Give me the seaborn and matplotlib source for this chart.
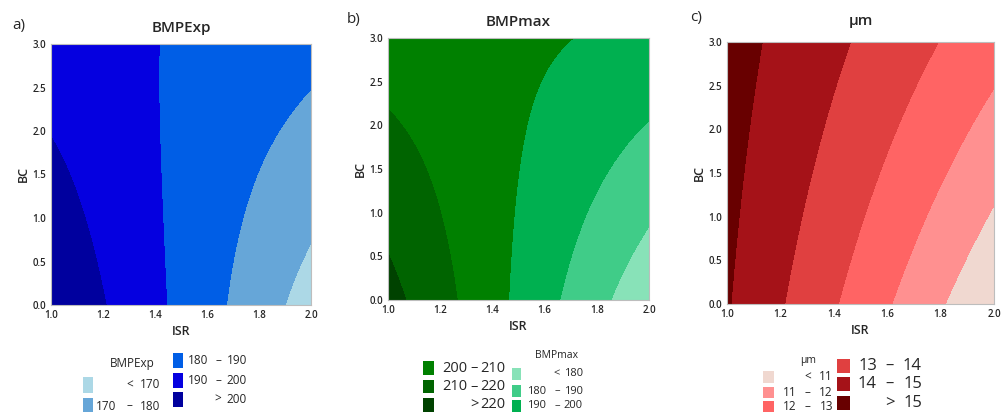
import numpy as np
import matplotlib
matplotlib.use("Agg")
import matplotlib.pyplot as plt
from matplotlib.patches import Rectangle
import seaborn as sns

# ---- data (response values on a coarse grid) ----
ISR_GRID = [1.0, 1.25, 1.5, 1.75, 2.0]
BC_GRID = [0.0, 1.0, 2.0, 3.0]

BMPEXP = [[209.0, 198.3, 187.5, 177.0, 165.5],
          [204.5, 196.0, 187.8, 179.3, 171.6],
          [199.5, 194.0, 188.3, 182.5, 177.8],
          [194.5, 191.8, 189.0, 186.0, 182.5]]
BMPMAX = [[223.5, 210.8, 198.0, 185.4, 172.5],
          [217.0, 208.2, 199.3, 190.7, 181.2],
          [211.2, 205.9, 200.8, 195.2, 189.6],
          [205.5, 203.7, 201.8, 199.8, 197.0]]
MU = [[15.07, 13.85, 12.60, 11.35, 10.10],
      [15.20, 14.09, 13.00, 11.96, 10.85],
      [15.30, 14.43, 13.55, 12.63, 11.70],
      [15.40, 14.63, 13.87, 13.12, 12.35]]

LEVELS_EXP = [170, 180, 190, 200]
LEVELS_MAX = [180, 190, 200, 210, 220]
LEVELS_MU = [11, 12, 13, 14, 15]

COLORS_EXP = ["#acd8e6", "#66a6d8", "#005ee6", "#0500e0", "#00009e"]
COLORS_MAX = ["#88e2b8", "#40cc88", "#00b050", "#008000", "#006400", "#004200"]
COLORS_MU = ["#f0d8d0", "#ff9090", "#ff6464", "#e04040", "#a51218", "#680000"]

# legend labels as (low, sign, high)
LABELS_EXP = [("", "<", "170"), ("170", "–", "180"), ("180", "–", "190"),
              ("190", "–", "200"), ("", ">", "200")]
LABELS_MAX = [("", "<", "180"), ("180", "–", "190"), ("190", "–", "200"),
              ("200", "–", "210"), ("210", "–", "220"), ("", ">", "220")]
LABELS_MU = [("", "<", "11"), ("11", "–", "12"), ("12", "–", "13"),
             ("13", "–", "14"), ("14", "–", "15"), ("", ">", "15")]

W, H = 1002, 412
sns.set_theme(style="white")
plt.rcParams["font.family"] = ["Open Sans", "DejaVu Sans"]

fig = plt.figure(figsize=(W / 100, H / 100), dpi=100)


def smooth_surface(z):
    xg, yg = np.meshgrid(ISR_GRID, BC_GRID)
    xs, ys, zs = xg.ravel(), yg.ravel(), np.asarray(z).ravel()
    terms = lambda x, y: np.stack([x**i * y**j for i in range(3) for j in range(3)], axis=-1)
    coef, *_ = np.linalg.lstsq(terms(xs, ys), zs, rcond=None)
    xf = np.linspace(1.0, 2.0, 300)
    yf = np.linspace(0.0, 3.0, 300)
    XF, YF = np.meshgrid(xf, yf)
    return XF, YF, terms(XF, YF) @ coef


def px_ax(l, t, r, b):
    return fig.add_axes([l / W, 1 - b / H, (r - l) / W, (b - t) / H])


def panel(box, z, levels, colors, title, tag, tag_xy, title_y):
    ax = px_ax(*box)
    XF, YF, ZF = smooth_surface(z)
    lv = [-1e6] + list(levels) + [1e6]
    ax.contourf(XF, YF, ZF, levels=lv, colors=colors)
    ax.set_xlim(1.0, 2.0)
    ax.set_ylim(0.0, 3.0)
    ax.set_xticks([1.0, 1.2, 1.4, 1.6, 1.8, 2.0])
    ax.set_yticks([0.0, 0.5, 1.0, 1.5, 2.0, 2.5, 3.0])
    ax.set_xticklabels([f"{v:.1f}" for v in ax.get_xticks()])
    ax.set_yticklabels([f"{v:.1f}" for v in ax.get_yticks()])
    ax.tick_params(axis="both", labelsize=7, length=2.5, width=0.6, color="#808080", pad=1)
    for lab in ax.get_xticklabels() + ax.get_yticklabels():
        lab.set_fontweight("semibold")
    ax.set_xlabel("ISR", fontsize=9, fontweight="semibold", labelpad=3)
    ax.set_ylabel("BC", fontsize=9, fontweight="semibold", labelpad=2)
    for s in ax.spines.values():
        s.set_color("#bdbdbd")
        s.set_linewidth(0.8)
    fig.text((box[0] + box[2]) / 2 / W, 1 - title_y / H, title, ha="center", va="center",
             fontsize=11, fontweight="semibold")
    fig.text(tag_xy[0] / W, 1 - tag_xy[1] / H, tag, ha="left", va="center", fontsize=11)
    return ax


panel((51, 44, 311, 305), BMPEXP, LEVELS_EXP, COLORS_EXP, "BMPExp", "a)", (12, 25), 28)
panel((388, 38, 649, 300), BMPMAX, LEVELS_MAX, COLORS_MAX, "BMPmax", "b)", (347, 19), 22)
panel((727, 42, 994, 304), MU, LEVELS_MU, COLORS_MU, "µm", "c)", (690, 17), 21)


def entry(box, color, label, xl, xs, xr, fs):
    x0, y0, x1, y1 = box
    fig.add_artist(Rectangle((x0 / W, 1 - y1 / H), (x1 - x0) / W, (y1 - y0) / H,
                             transform=fig.transFigure, facecolor=color, edgecolor="none"))
    yc = 1 - (y0 + y1) / 2 / H
    lo, sign, hi = label
    if lo:
        fig.text(xl / W, yc, lo, ha="right", va="center", fontsize=fs)
    fig.text(xs / W, yc, sign, ha="center", va="center", fontsize=fs)
    fig.text(xr / W, yc, hi, ha="right", va="center", fontsize=fs)


def ftext(x, y, s, fs):
    fig.text(x / W, 1 - y / H, s, ha="center", va="center", fontsize=fs)


# legend a
ftext(132, 363, "BMPExp", 8.5)
entry((83, 377, 93, 393), COLORS_EXP[0], LABELS_EXP[0], 115, 130, 160, 8.5)
entry((83, 398, 93, 414), COLORS_EXP[1], LABELS_EXP[1], 116, 129, 160, 8.5)
entry((173, 353, 183, 368), COLORS_EXP[2], LABELS_EXP[2], 208, 218, 247, 8.5)
entry((173, 373, 183, 388), COLORS_EXP[3], LABELS_EXP[3], 208, 218, 247, 8.5)
entry((173, 392, 183, 407), COLORS_EXP[4], LABELS_EXP[4], 208, 218, 247, 8.5)

# legend b
entry((423, 361, 434, 375), COLORS_MAX[3], LABELS_MAX[3], 467, 474, 505, 10.5)
entry((423, 380, 434, 393), COLORS_MAX[4], LABELS_MAX[4], 467, 474, 505, 10.5)
entry((423, 398, 434, 412), COLORS_MAX[5], LABELS_MAX[5], 467, 474, 505, 10.5)
ftext(556, 356, "BMPmax", 7.5)
entry((512, 368, 521, 380), COLORS_MAX[0], LABELS_MAX[0], 546, 557, 583, 8)
entry((512, 385, 521, 397), COLORS_MAX[1], LABELS_MAX[1], 546, 557, 583, 8)
entry((512, 400, 521, 412), COLORS_MAX[2], LABELS_MAX[2], 546, 557, 583, 8)

# legend c
ftext(808, 361, "µm", 7.5)
entry((763, 371, 774, 383), COLORS_MU[0], LABELS_MU[0], 797, 808, 833, 8.5)
entry((763, 387, 774, 398), COLORS_MU[1], LABELS_MU[1], 797, 807, 833, 8.5)
entry((763, 401, 774, 412), COLORS_MU[2], LABELS_MU[2], 797, 807, 833, 8.5)
entry((837, 359, 850, 373), COLORS_MU[3], LABELS_MU[3], 877, 890, 922, 12)
entry((837, 377, 850, 391), COLORS_MU[4], LABELS_MU[4], 877, 890, 922, 12)
entry((837, 396, 850, 410), COLORS_MU[5], LABELS_MU[5], 877, 890, 922, 12)

fig.savefig("out.png", dpi=100)
